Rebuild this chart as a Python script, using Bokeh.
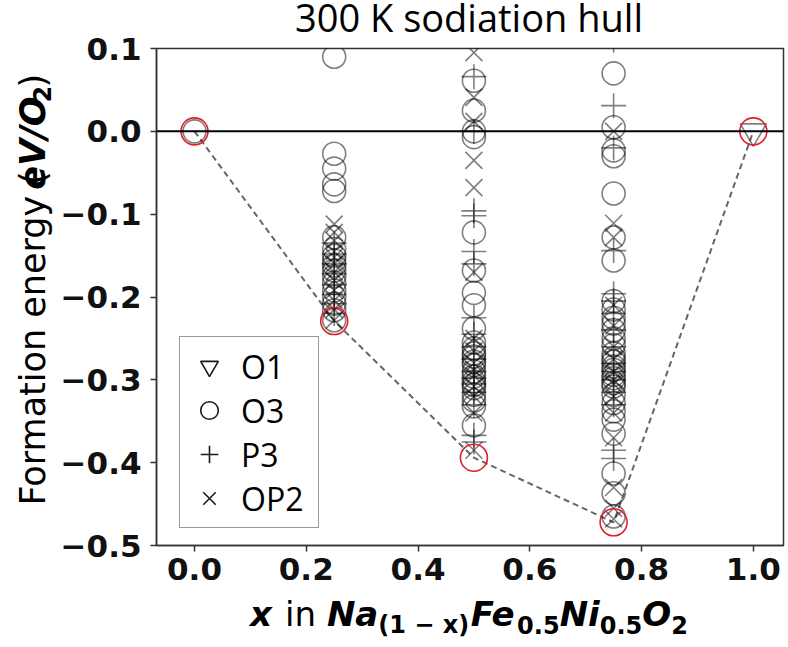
from math import pi
from bokeh.plotting import figure
from bokeh.layouts import column, row
from bokeh.models import (Range1d, FixedTicker, CustomJSTickFormatter, Span, Label,
                          Legend, LegendItem)
from bokeh.embed import file_html
from bokeh.resources import INLINE

# ---------------- data ----------------
x_ticks = [0.0, 0.2, 0.4, 0.6, 0.8, 1.0]
y_ticks = [-0.5, -0.4, -0.3, -0.2, -0.1, 0.0, 0.1]

hull_x = [0.0, 0.25, 0.5, 0.75, 1.0]
hull_y = [0.0, -0.229, -0.394, -0.472, 0.0]

o1_x = [1.0]
o1_y = [0.0]

o3_000 = [0.0]
o3_025 = [0.09, -0.027, -0.045, -0.064, -0.072, -0.128, -0.142, -0.150, -0.156, -0.162,
          -0.168, -0.175, -0.183, -0.192, -0.200, -0.208, -0.216, -0.228]
o3_050 = [0.061, 0.025, 0.0, -0.007, -0.122, -0.168, -0.195, -0.21, -0.238, -0.255, -0.262,
          -0.268, -0.272, -0.278, -0.282, -0.29, -0.296, -0.302, -0.306, -0.31, -0.318,
          -0.325, -0.332, -0.355]
o3_075 = [0.07, 0.005, -0.023, -0.03, -0.075, -0.128, -0.156, -0.205, -0.215, -0.225, -0.232,
          -0.24, -0.25, -0.258, -0.268, -0.274, -0.278, -0.284, -0.288, -0.294, -0.298,
          -0.304, -0.308, -0.318, -0.328, -0.338, -0.348, -0.365, -0.413, -0.437, -0.465]

p3_025 = [-0.135, -0.148, -0.16, -0.172, -0.185, -0.197, -0.208, -0.22]
p3_050 = [0.066, 0.0, -0.096, -0.102, -0.145, -0.16, -0.225, -0.245, -0.26, -0.275, -0.29,
          -0.298, -0.305, -0.315, -0.33, -0.367, -0.375]
p3_075 = [0.11, 0.031, -0.02, -0.144, -0.196, -0.205, -0.22, -0.24, -0.26, -0.28, -0.29,
          -0.3, -0.315, -0.33, -0.385, -0.395]

op2_025 = [-0.112, -0.122, -0.132, -0.145, -0.152, -0.16, -0.17, -0.18, -0.192, -0.204,
           -0.215, -0.228]
op2_050 = [0.095, 0.041, 0.012, -0.035, -0.068, -0.17, -0.25, -0.265, -0.28, -0.288,
           -0.295, -0.308, -0.32, -0.34, -0.385]
op2_075 = [0.0, -0.111, -0.128, -0.21, -0.235, -0.26, -0.275, -0.29, -0.3, -0.305, -0.32,
           -0.34, -0.37, -0.43, -0.455, -0.468]

legend_labels = ["O1", "O3", "P3", "OP2"]
title_text = "300 K sodiation hull"


def column_of(xval, ys):
    return [xval] * len(ys)


o3_x = (column_of(0.0, o3_000) + column_of(0.25, o3_025) + column_of(0.5, o3_050)
        + column_of(0.75, o3_075))
o3_y = o3_000 + o3_025 + o3_050 + o3_075
p3_x = column_of(0.25, p3_025) + column_of(0.5, p3_050) + column_of(0.75, p3_075)
p3_y = p3_025 + p3_050 + p3_075
op2_x = column_of(0.25, op2_025) + column_of(0.5, op2_050) + column_of(0.75, op2_075)
op2_y = op2_025 + op2_050 + op2_075

# ---------------- layout geometry (page pixels) ----------------
PAGE_W, PAGE_H = 788, 647
TITLE_H = 35
TOP_BORDER = 48 - TITLE_H                   # frame top at page y 48
YLAB_W = 57
MAIN_H = TOP_BORDER + 497 + 48
XLAB_H = PAGE_H - TITLE_H - MAIN_H          # 54
MAIN_W = PAGE_W - YLAB_W                    # 731


def helper_fig(w, h):
    f = figure(width=w, height=h, x_range=Range1d(0, w), y_range=Range1d(0, h),
               output_backend="svg", toolbar_location=None, min_border=0,
               x_axis_type=None, y_axis_type=None)
    f.outline_line_color = None
    f.background_fill_color = "white"
    f.border_fill_color = "white"
    return f


# ---------------- main plot ----------------
p = figure(width=MAIN_W, height=MAIN_H, output_backend="svg", toolbar_location=None,
           x_range=Range1d(-0.068, 1.054), y_range=Range1d(-0.5, 0.1),
           min_border_left=97, min_border_right=5, min_border_top=TOP_BORDER,
           min_border_bottom=48)
p.background_fill_color = "white"
p.border_fill_color = "white"
p.outline_line_color = "#333333"
p.outline_line_width = 1.5
p.xgrid.visible = False
p.ygrid.visible = False

for ax in (p.xaxis[0], p.yaxis[0]):
    ax.axis_line_color = "#333333"
    ax.axis_line_width = 1.5
    ax.major_tick_line_color = "#333333"
    ax.major_tick_line_width = 1.5
    ax.major_tick_in = 0
    ax.major_tick_out = 6
    ax.minor_tick_line_color = None
    ax.major_label_text_font = "DejaVu Sans"
    ax.major_label_text_font_style = "bold"
    ax.major_label_text_font_size = "31px"
    ax.major_label_text_color = "#111111"

p.xaxis.ticker = FixedTicker(ticks=x_ticks)
p.yaxis.ticker = FixedTicker(ticks=y_ticks)
p.xaxis.formatter = CustomJSTickFormatter(code="return tick.toFixed(1).replace('-', '\u2212');")
p.yaxis.formatter = CustomJSTickFormatter(code="return tick.toFixed(1).replace('-', '\u2212');")
p.xaxis.major_label_standoff = 6
p.yaxis.major_label_standoff = 9

p.add_layout(Span(location=0.0, dimension="width", line_color="black", line_width=2))

p.line(hull_x, hull_y, line_color="#666666", line_width=2, line_dash="6 4")

mk = dict(fill_color=None, line_color="black", line_alpha=0.5, line_width=1.6)
p.scatter(o1_x, o1_y, marker="inverted_triangle", size=26, **mk)
p.scatter(o3_x, o3_y, marker="circle", size=23, **mk)
p.scatter(p3_x, p3_y, marker="cross", size=25, **mk)
p.scatter(op2_x, op2_y, marker="x", size=24, **mk)

p.scatter(hull_x, hull_y, marker="circle", size=27, fill_color=None,
          line_color="#e0202a", line_width=1.6)

# hidden twins of the series, used only to draw darker legend symbols
lk = dict(fill_color=None, line_color="black", line_alpha=0.9, line_width=1.6, visible=False)
l_o1 = p.scatter(o1_x, o1_y, marker="inverted_triangle", **lk)
l_o3 = p.scatter(o3_x, o3_y, marker="circle", **lk)
l_p3 = p.scatter(p3_x, p3_y, marker="cross", **lk)
l_op2 = p.scatter(op2_x, op2_y, marker="x", **lk)

legend = Legend(items=[LegendItem(label=legend_labels[0], renderers=[l_o1]),
                       LegendItem(label=legend_labels[1], renderers=[l_o3]),
                       LegendItem(label=legend_labels[2], renderers=[l_p3]),
                       LegendItem(label=legend_labels[3], renderers=[l_op2])],
                location=(23, 17), margin=0, padding=7, spacing=0,
                glyph_width=44, glyph_height=44, label_height=44, label_width=70,
                label_standoff=10, label_text_font="Open Sans",
                label_text_font_size="32px", label_text_color="black",
                border_line_color="#333333", border_line_width=1.5,
                background_fill_color="white", background_fill_alpha=1.0,
                inactive_fill_alpha=0.0, click_policy="none")
p.add_layout(legend)

# ---------------- text helpers ----------------
W_REG = {"F": .575, "o": .612, "r": .411, "m": .974, "a": .613, "t": .392, "i": .278,
         "n": .634, " ": .318, "e": .615, "g": .635, "y": .592, "(": .390, ")": .390}
W_BOLD = {"e": .678, "V": .774, "/": .364, "O": .850, "2": .696, "x": .711, "N": .837,
          "a": .675, "F": .683, "i": .343, "(": .457, ")": .457, "1": .696, "\u2212": .838,
          "0": .696, ".": .381, "5": .696, " ": .348}
K_DEJAVU = 0.35     # baseline -> middle of text box (em)
K_OPEN = 0.38


def width(txt, style, size):
    tbl = W_REG if style == "normal" else W_BOLD
    return sum(tbl.get(c, 0.6) for c in txt) * size


# title (baseline at page y 31)
tfig = helper_fig(PAGE_W, TITLE_H)
TFS = 38
tfig.add_layout(Label(x=468.5, y=TITLE_H - (31 - K_OPEN * TFS), text=title_text,
                      text_align="center", text_baseline="middle", text_font="Open Sans",
                      text_font_size=f"{TFS}px", text_color="black"))

# y label (rotated), baseline at page x 45; page y -> fig y = (TITLE_H + MAIN_H) - page_y
YFS, YSUB = 35, 24
yfig = helper_fig(YLAB_W, MAIN_H)
# (text, style, size, baseline shift, extra gap after)
ypieces = [("Formation energy (", "normal", YFS, 0, 4), ("eV/O", "bold italic", YFS, 0, 0),
           ("2", "bold", YSUB, 5, 0), (")", "normal", YFS, 0, 0)]
ytot = sum(width(t, s, f) + g for t, s, f, _, g in ypieces)
cur = 296.5 + ytot / 2          # page y where label starts (bottom)
for t, s, f, sh, g in ypieces:
    w = width(t, s, f)
    yfig.add_layout(Label(x=45 + sh - K_DEJAVU * f, y=(TITLE_H + MAIN_H) - (cur - w / 2),
                          text=t, angle=pi / 2, text_align="center", text_baseline="middle",
                          text_font="DejaVu Sans", text_font_style=s,
                          text_font_size=f"{f}px", text_color="black"))
    cur -= w + g

# x label, baseline at page y 625; page y -> fig y = PAGE_H - page_y
XFS, XSUB = 34, 24
XBASE = 625
xfig = helper_fig(PAGE_W, XLAB_H)
xpieces = [("x", "bold italic", XFS, 0), (None, "normal", XFS, 0), ("in", "normal", XFS, 0),
           (None, "normal", XFS, 0), ("Na", "bold italic", XFS, 0),
           ("(1 \u2212 x)", "bold", XSUB, 8), ("Fe", "bold italic", XFS, 0),
           ("0.5", "bold", XSUB, 8), ("Ni", "bold italic", XFS, 0), ("0.5", "bold", XSUB, 8),
           ("O", "bold italic", XFS, 0), ("2", "bold", XSUB, 8)]


def pw(t, s, f):
    return width(" ", "normal", f) if t is None else width(t, s, f)


xtot = sum(pw(t, s, f) for t, s, f, _ in xpieces)
cur = 468.5 - xtot / 2
for t, s, f, sh in xpieces:
    if t is not None:
        xfig.add_layout(Label(x=cur, y=PAGE_H - (XBASE + sh - K_DEJAVU * f), text=t,
                              text_align="left", text_baseline="middle",
                              text_font="DejaVu Sans", text_font_style=s,
                              text_font_size=f"{f}px", text_color="black"))
    cur += pw(t, s, f)

layout = column(tfig, row(yfig, p), xfig)
open("out.html", "w").write(file_html(layout, INLINE))
